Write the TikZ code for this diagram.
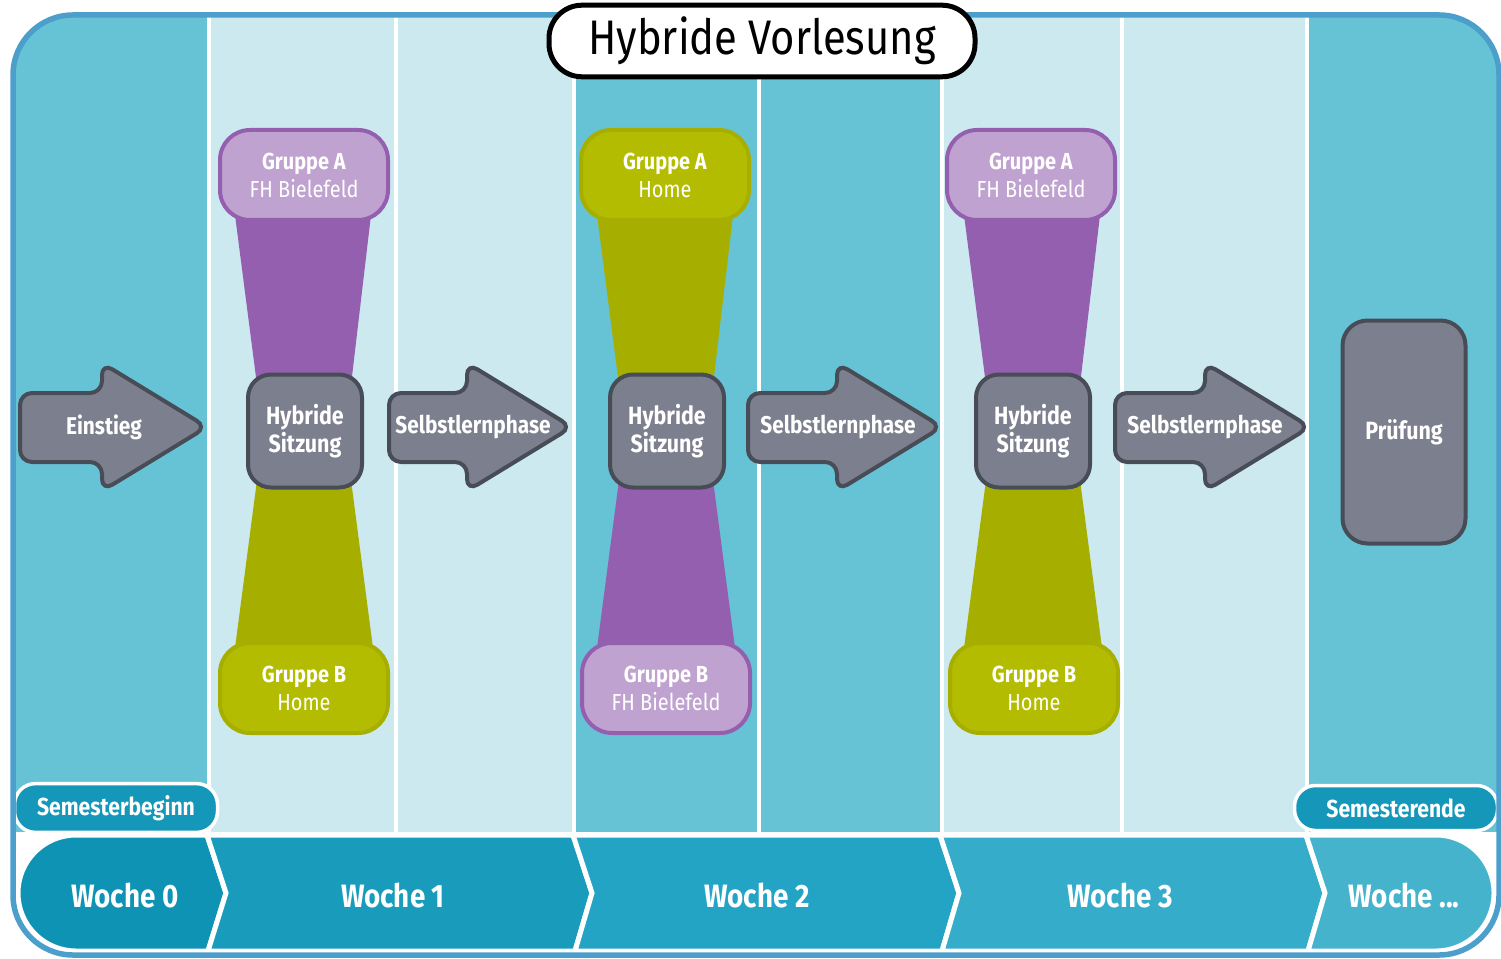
\documentclass[tikz,border=0pt]{standalone}
\usepackage{fontspec}
\setmainfont{Fira Sans}[FakeStretch=0.86]
\usetikzlibrary{positioning}

\definecolor{spalteDunkel}{HTML}{66C3D6}
\definecolor{spalteHell}{HTML}{CCE9F0}
\definecolor{rahmen}{HTML}{4D9FCB}
\definecolor{lila}{HTML}{955FB0}
\definecolor{lilaHell}{HTML}{BFA2CF}
\definecolor{gruen}{HTML}{A6AF00}
\definecolor{gruenHell}{HTML}{B3BC00}
\definecolor{grau}{HTML}{7C7F8D}
\definecolor{grauRand}{HTML}{474C57}
\definecolor{pille}{HTML}{1497B8}
\definecolor{wocheA}{HTML}{0F93B4}
\definecolor{wocheB}{HTML}{199CBC}
\definecolor{wocheC}{HTML}{24A4C4}
\definecolor{wocheD}{HTML}{35ACC9}
\definecolor{wocheE}{HTML}{45B3CC}

\tikzset{
  gruppe/.style={line width=0.4mm, rounded corners=3mm, minimum width=16.8mm,
    minimum height=9mm, text=white, align=center, font=\fontsize{6.6}{8}\selectfont},
  gruppeLila/.style={gruppe, draw=lila, fill=lilaHell},
  gruppeGruen/.style={gruppe, draw=gruen, fill=gruenHell},
  sitzung/.style={draw=grauRand, line width=0.4mm, fill=grau, rounded corners=2.3mm,
    minimum width=11.4mm, minimum height=11.3mm, text=white, align=center,
    font=\bfseries\fontsize{7.1}{8}\selectfont},
  pfeil/.style={draw=grauRand, line width=0.4mm, fill=grau, rounded corners=1.2mm},
  pfeiltext/.style={text=white, font=\bfseries\fontsize{6.9}{8}\selectfont},
  woche/.style={draw=white, line width=0.5mm},
  wochetext/.style={text=white, font=\bfseries\fontsize{9.2}{10}\selectfont},
  semester/.style={draw=white, line width=0.35mm, fill=pille, rounded corners=2.1mm,
    minimum width=20.3mm, minimum height=4.5mm, text=white,
    font=\bfseries\fontsize{7}{8}\selectfont}
}

\begin{document}
\begin{tikzpicture}[x=0.1mm, y=-0.1mm]
    \useasboundingbox (0,0) rectangle (1501,958);

    % Hintergrund mit Spalten
    \begin{scope}
        \clip[rounded corners=6mm] (13,15) rectangle (1499,955);
        \fill[white] (13,15) rectangle (1499,955);
        \foreach \xa/\xb/\farbe in {13/207/spalteDunkel, 211/394/spalteHell, 398/572/spalteHell,
            576/757/spalteDunkel, 761/940/spalteDunkel, 944/1120/spalteHell,
            1124/1305/spalteHell, 1309/1499/spalteDunkel} {
            \fill[\farbe] (\xa,15) rectangle (\xb,832);
        }

        % Wochen-Band
        \draw[woche, fill=wocheA] (207,835) -- (226,893) -- (208,951)
            [rounded corners=5.8mm] -- (18,951) -- (18,835) [sharp corners] -- cycle;
        \draw[woche, fill=wocheB] (207,835) -- (573,835) -- (592,893) -- (575,951)
            -- (208,951) -- (226,893) -- cycle;
        \draw[woche, fill=wocheC] (573,835) -- (940,835) -- (959,893) -- (942,951)
            -- (575,951) -- (592,893) -- cycle;
        \draw[woche, fill=wocheD] (940,835) -- (1306,835) -- (1325,893) -- (1308,951)
            -- (942,951) -- (959,893) -- cycle;
        \draw[woche, fill=wocheE] (1306,835) [rounded corners=5.8mm] -- (1494,835)
            -- (1494,951) [sharp corners] -- (1308,951) -- (1325,893) -- cycle;
    \end{scope}

    \node[wochetext] (w0) at (125,896) {Woche 0};
    \node[wochetext] (w1) at (393,896) {Woche 1};
    \node[wochetext] (w2) at (757,896) {Woche 2};
    \node[wochetext] (w3) at (1120,896) {Woche 3};
    \node[wochetext] (w4) at (1404,896) {Woche ...};

    \node[semester] (beginn) at (116,808) {Semesterbeginn};
    \node[semester] (ende) at (1396,808) {Semesterende};

    % Verbindungen Gruppe -- Sitzung
    \foreach \cx/\oben/\unten in {304/lila/gruen, 666/gruen/lila, 1033/lila/gruen} {
        \fill[\oben] (\cx-69,215) -- (\cx+67,215) -- (\cx+47,385) -- (\cx-47,385) -- cycle;
        \fill[\unten] (\cx-47,480) -- (\cx+47,480) -- (\cx+69,648) -- (\cx-69,648) -- cycle;
    }

    \node[gruppeLila] (a1) at (304,175) {\textbf{Gruppe A}\\FH Bielefeld};
    \node[gruppeGruen] (b1) at (304,688) {\textbf{Gruppe B}\\Home};
    \node[gruppeGruen] (a2) at (665,175) {\textbf{Gruppe A}\\Home};
    \node[gruppeLila] (b2) at (666,688) {\textbf{Gruppe B}\\FH Bielefeld};
    \node[gruppeLila] (a3) at (1031,175) {\textbf{Gruppe A}\\FH Bielefeld};
    \node[gruppeGruen] (b3) at (1034,688) {\textbf{Gruppe B}\\Home};

    \node[sitzung] (s1) at (305,431) {Hybride\\Sitzung};
    \node[sitzung] (s2) at (667,431) {Hybride\\Sitzung};
    \node[sitzung] (s3) at (1033,431) {Hybride\\Sitzung};

    % Pfeile
    \foreach \name/\xl/\xt/\tx/\txt in {einstieg/20/207/104/Einstieg,
        phase1/389/572/473/Selbstlernphase, phase2/748/942/838/Selbstlernphase,
        phase3/1115/1310/1205/Selbstlernphase} {
        \draw[pfeil] (\xl,393) -- (\xt-105,393) -- (\xt-105,363) -- (\xt,427)
            -- (\xt-105,491) -- (\xt-105,462) -- (\xl,462) -- cycle;
        \node[pfeiltext] (\name) at (\tx,427) {\txt};
    }

    \node[sitzung, minimum width=12.3mm, minimum height=22.3mm, rounded corners=2.5mm]
        (pruefung) at (1404,432) {Prüfung};

    % Rahmen und Titel
    \draw[rahmen, line width=0.55mm, rounded corners=6mm] (13,15) rectangle (1499,955);
    \node[draw=black, line width=0.5mm, fill=white, rounded corners=3.3mm,
        minimum width=42.6mm, minimum height=6.7mm,
        font=\fontsize{13.8}{15}\selectfont] (titel) at (762,41) {Hybride Vorlesung};
\end{tikzpicture}
\end{document}
